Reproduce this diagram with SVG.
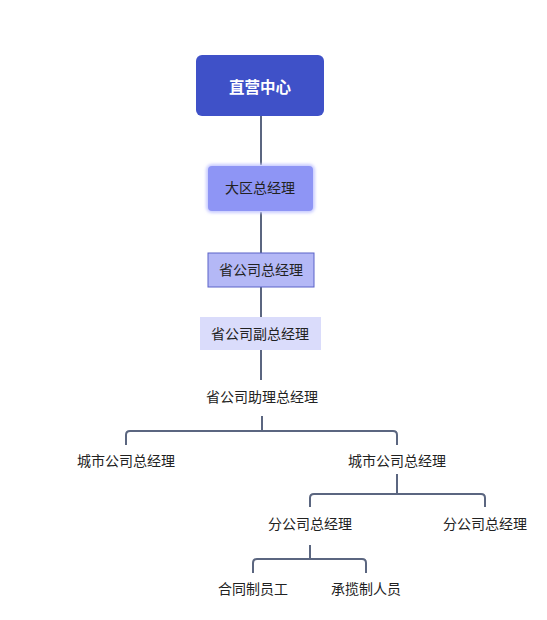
<svg xmlns="http://www.w3.org/2000/svg" width="547" height="620" viewBox="0 0 547 620">
<style>
text{font-family:"Noto Sans CJK SC","Liberation Sans",sans-serif;font-size:14px;fill:#222;text-anchor:middle;dominant-baseline:central}
.c{fill:none;stroke:#5b6680;stroke-width:2;stroke-linejoin:round}
</style>
<defs>
<filter id="glow" x="-20%" y="-20%" width="140%" height="140%"><feGaussianBlur stdDeviation="1.5"/></filter>
</defs>
<rect width="547" height="620" fill="#fff"/>
<g id="connectors">
<path class="c" d="M261 116V165M261 212V253M261 287V317M261 350V380"/>
<path class="c" d="M262 416V431M126 445V435Q126 431 130 431H393Q397 431 397 435V445"/>
<path class="c" d="M397 474V494M310 507V498Q310 494 314 494H481Q485 494 485 498V507"/>
<path class="c" d="M310 545V559M253 573V563Q253 559 257 559H362Q366 559 366 563V573"/>
</g>
<g id="n1"><rect x="196" y="55" width="128" height="61" rx="6" fill="#3f51c8"/><text x="260" y="86" style="fill:#fff;font-weight:bold;font-size:15.5px">直营中心</text></g>
<g id="n2"><rect x="206" y="164" width="109" height="49" rx="6" fill="#c9ccff" filter="url(#glow)"/><rect x="208" y="166" width="105" height="45" rx="4" fill="#8e95f5"/><text x="260" y="187">大区总经理</text></g>
<g id="n3"><rect x="208" y="253" width="106" height="34" fill="#b4b8f6" stroke="#5a62c8" stroke-width="1"/><text x="261" y="269">省公司总经理</text></g>
<g id="n4"><rect x="200" y="317" width="121" height="33" fill="#dadcfb"/><text x="260" y="333">省公司副总经理</text></g>
<g id="n5"><text x="262" y="396">省公司助理总经理</text></g>
<g id="n6"><text x="126" y="460">城市公司总经理</text></g>
<g id="n7"><text x="397" y="460">城市公司总经理</text></g>
<g id="n8"><text x="310" y="523">分公司总经理</text></g>
<g id="n9"><text x="485" y="523">分公司总经理</text></g>
<g id="n10"><text x="253" y="588">合同制员工</text></g>
<g id="n11"><text x="366" y="588">承揽制人员</text></g>
</svg>
